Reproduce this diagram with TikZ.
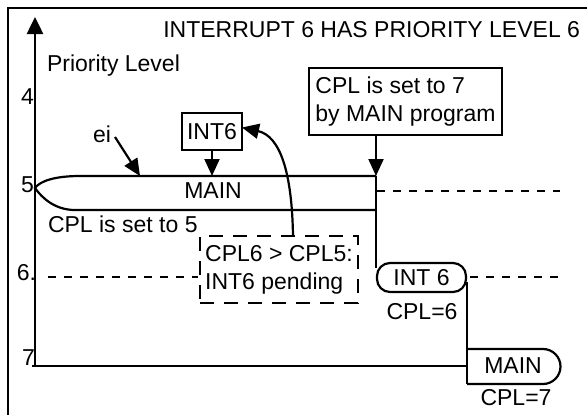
\documentclass[tikz,border=0pt]{standalone}
\usepackage{fontspec}
\setmainfont{Liberation Sans}
\usetikzlibrary{arrows.meta}
\begin{document}
\begin{tikzpicture}[x=1pt,y=-1pt,
  font=\fontsize{23}{28}\selectfont,
  every node/.style={inner sep=0pt, outer sep=0pt},
  ln/.style={line width=2.2pt},
  tip/.style={-{Triangle[length=17pt,width=15pt]}},
  lvl/.style={line width=2.2pt, dash pattern=on 8pt off 8pt},
  boxed/.style={draw, line width=2.2pt, align=left, inner xsep=5pt, inner ysep=0pt},
  dbox/.style={draw, line width=2.2pt, dash pattern=on 14pt off 10pt, align=left, inner xsep=4pt, inner ysep=0pt}]
\useasboundingbox (0,0) rectangle (587,415);
% frame
\draw[line width=2.5pt] (8,415) -- (8,8) -- (590,8);
% axis
\coordinate (axtop) at (35,17);
\coordinate (axbot) at (35,366);
\draw[line width=2.5pt, -{Triangle[length=17pt,width=16pt]}] (axbot) -- (axtop);
% titles
\node[anchor=base east] (title) at (580,37) {INTERRUPT 6 HAS PRIORITY LEVEL 6};
\node[anchor=base west] (plevel) at (47,71) {Priority Level};
\node[anchor=base east] (l4) at (34,104) {4};
\node[anchor=base east] (l5) at (34,192) {5};
\node[anchor=base east] (l6) at (36,280) {6.};
\node[anchor=base east] (l7) at (35,365) {7};
% MAIN at level 5
\coordinate (m5tr) at (376,176);
\coordinate (m5br) at (376,210);
\coordinate (m5tip) at (35,188);
\draw[ln] (m5tr) -- (80,176) .. controls (55,176) and (40,181) .. (m5tip)
  .. controls (42,198) and (55,210) .. (75,210) -- (m5br);
\node[anchor=base] (main5) at (213,198) {MAIN};
\node[anchor=base west] (cpl5) at (48,232) {CPL is set to 5};
% ei
\node[anchor=base west] (ei) at (93,142) {ei};
\coordinate (eitip) at (140,176);
\draw[ln, tip] (115,137) -- (eitip);
% INT6 box
\node[draw, line width=2.2pt, minimum width=60pt, minimum height=37pt] (int6) at (212,131.5) {INT6};
\draw[ln, tip] (int6.south) -- (int6.south |- m5tr);
% CPL set to 7 box
\node[boxed, minimum width=193pt, minimum height=67pt] (cpl7box) at (405.5,101.5) {CPL is set to 7\\by MAIN program};
% dashed box
\node[dbox, minimum width=158pt, minimum height=67pt] (pend) at (279,269.5) {CPL6 > CPL5:\\INT6 pending};
% curved arrow
\draw[ln, tip] (293,236) .. controls (292,172) and (280,136) .. ([yshift=4pt]int6.east);
% vertical drop at 376 with arrow
\draw[ln, tip] (cpl7box.south -| m5tr) -- (m5tr);
% INT 6 rounded box at level 6
\node[draw, line width=2.2pt, rounded corners=13pt, minimum width=89pt, minimum height=29pt] (int6b) at (421.5,277.5) {INT 6};
\draw[ln] (m5tr) -- (376,268);
\node[anchor=base] (cpl6) at (422,319) {CPL=6};
% level lines
\draw[lvl] (377,191) -- (560,191);
\draw[lvl] (48,277) -- (198,277);
\draw[lvl] (470,277) -- (560,277);
% drop to level 7
\coordinate (v2top) at (467,282);
\coordinate (v2bot) at (467,384);
\draw[ln] (v2top) -- (v2bot);
% MAIN box at level 7
\coordinate (m7tl) at (467,349);
\draw[ln] (m7tl) -- (543,349) arc[start angle=90,end angle=-90,radius=17.5pt] -- (v2bot);
\node[anchor=base] (main7) at (513,373) {MAIN};
\node[anchor=base] (cpl7) at (516,405) {CPL=7};
% bottom line
\draw[ln] (32,366) -- (467,366);
\end{tikzpicture}
\end{document}
